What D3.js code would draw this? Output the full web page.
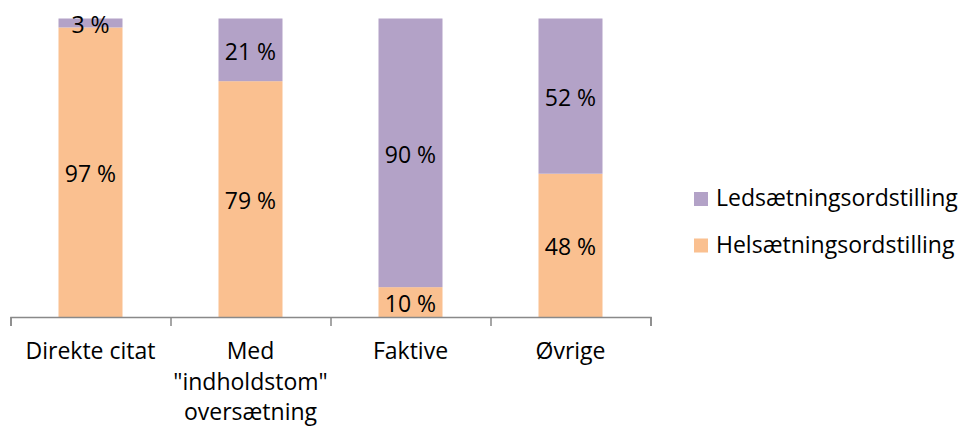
<!DOCTYPE html>
<html>
<head>
<meta charset="utf-8">
<script src="https://cdn.jsdelivr.net/npm/d3@7"></script>
<style>
  body { margin: 0; background: #fff; }
  text { font-family: "Open Sans", sans-serif; fill: #000; }
</style>
</head>
<body>
<div id="chart"></div>
<script>
// data
const categories = ["Direkte citat", "Med \"indholdstom\" oversætning", "Faktive", "Øvrige"];
const seriesNames = ["Helsætningsordstilling", "Ledsætningsordstilling"];
const helsaetning = [0.97, 0.79, 0.10, 0.48];
const ledsaetning = [0.03, 0.21, 0.90, 0.52];
const seriesColors = ["#fac090", "#b3a2c7"];

(function() {
  const width = 960, height = 428;
  const plot = { left: 10.5, right: 650.5, top: 18.5, bottom: 317 };
  const fontSize = 23;

  const svg = d3.select("#chart")
    .append("svg")
    .attr("width", width)
    .attr("height", height);

  // build rows for the stack
  const rows = categories.map((c, i) => ({
    cat: c,
    [seriesNames[0]]: helsaetning[i],
    [seriesNames[1]]: ledsaetning[i]
  }));
  const stacked = d3.stack().keys(seriesNames)(rows);

  const x = d3.scaleBand()
    .domain(categories)
    .range([plot.left, plot.right])
    .paddingInner(0.6)
    .paddingOuter(0.3);

  const y = d3.scaleLinear()
    .domain([0, 1])
    .range([plot.bottom, plot.top]);

  const color = d3.scaleOrdinal().domain(seriesNames).range(seriesColors);

  // bars
  const layers = svg.selectAll("g.layer")
    .data(stacked)
    .enter().append("g")
    .attr("class", "layer")
    .attr("fill", d => color(d.key));

  layers.selectAll("rect")
    .data(d => d)
    .enter().append("rect")
    .attr("x", d => x(d.data.cat))
    .attr("y", d => y(d[1]))
    .attr("width", x.bandwidth())
    .attr("height", d => y(d[0]) - y(d[1]));

  // data labels in the middle of each segment
  layers.selectAll("text")
    .data(d => d)
    .enter().append("text")
    .attr("x", d => x(d.data.cat) + x.bandwidth() / 2)
    .attr("y", d => (y(d[0]) + y(d[1])) / 2 + 1)
    .attr("text-anchor", "middle")
    .attr("dominant-baseline", "central")
    .attr("font-size", fontSize)
    .text(d => Math.round((d[1] - d[0]) * 100) + " %");

  // category axis: ticks sit between the categories
  const edges = d3.scaleLinear()
    .domain([0, categories.length])
    .range([plot.left, plot.right]);

  const axis = svg.append("g")
    .attr("transform", `translate(0,${plot.bottom})`)
    .call(d3.axisBottom(edges).ticks(categories.length).tickSize(9).tickSizeOuter(9).tickFormat(""));
  axis.selectAll("path, line")
    .attr("stroke", "#898989")
    .attr("stroke-width", 1.5);

  // category labels, wrapped to the category width
  const labels = svg.append("g");
  categories.forEach(c => {
    const cx = x(c) + x.bandwidth() / 2;
    const t = labels.append("text")
      .attr("x", cx)
      .attr("y", 359)
      .attr("text-anchor", "middle")
      .attr("font-size", fontSize);
    const words = c.split(" ");
    let line = [];
    let tspan = t.append("tspan").attr("x", cx).attr("dy", 0);
    words.forEach(w => {
      line.push(w);
      tspan.text(line.join(" "));
      if (tspan.node().getComputedTextLength() > x.step() - 8 && line.length > 1) {
        line.pop();
        tspan.text(line.join(" "));
        line = [w];
        tspan = t.append("tspan")
          .attr("x", cx)
          .attr("dy", 30.5)
          .text(w);
      }
    });
  });

  // legend, top entry is the top series
  const legend = svg.append("g")
    .attr("transform", "translate(694,192)");
  const legendItems = seriesNames.slice().reverse();
  legendItems.forEach((s, i) => {
    const g = legend.append("g").attr("transform", `translate(0,${i * 46.5})`);
    g.append("rect")
      .attr("width", 14)
      .attr("height", 14)
      .attr("fill", color(s));
    g.append("text")
      .attr("x", 22)
      .attr("y", 14)
      .attr("font-size", fontSize)
      .text(s);
  });
})();
</script>
</body>
</html>
